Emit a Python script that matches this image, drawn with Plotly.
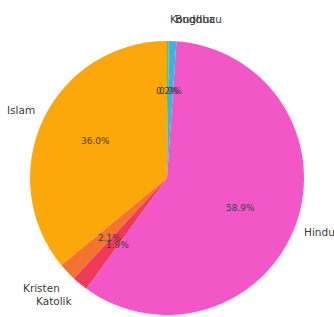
import math
import plotly.graph_objects as go

labels = ["Islam", "Kristen", "Katolik", "Hindu", "Buddha", "Konghucu"]
values = [36.0, 2.1, 1.9, 58.9, 0.9, 0.2]
colors = ["#FCA70A", "#F2742F", "#F03A5C", "#F356C6", "#3AB4E6", "#57C46A"]

W, H = 334, 317
cx, cy, R = 167, 178, 137
RX, RY = 131, 145  # text placement radii (reference is slightly stretched)

total = sum(values)

fig = go.Figure()
fig.add_trace(go.Pie(
    labels=labels, values=values, sort=False, direction="counterclockwise",
    rotation=-values[0] / total * 360.0, textinfo="none", hoverinfo="label+percent",
    marker=dict(colors=colors, line=dict(width=0)),
    domain=dict(x=[(cx - R) / W, (cx + R) / W], y=[1 - (cy + R) / H, 1 - (cy - R) / H]),
    showlegend=False,
))

start = 90.0
annotations = []
for lab, v in zip(labels, values):
    span = v / total * 360.0
    mid = math.radians(start + span / 2)
    start += span
    c, s = math.cos(mid), math.sin(mid)
    lx, ly = cx + 1.1 * RX * c, cy - 1.1 * RY * s
    annotations.append(dict(
        x=lx / W, y=1 - ly / H, xref="paper", yref="paper", text=lab,
        showarrow=False, xanchor="left" if c > 0 else "right", yanchor="middle",
        font=dict(family="DejaVu Sans", size=10.5, color="#3a3a3a"),
    ))
    px_, py_ = cx + 0.6 * RX * c, cy - 0.6 * RY * s
    annotations.append(dict(
        x=px_ / W, y=1 - py_ / H, xref="paper", yref="paper",
        text=f"{v / total * 100:.1f}%", showarrow=False,
        xanchor="center", yanchor="middle",
        font=dict(family="DejaVu Sans", size=9, color="#4a3a40"),
    ))

fig.update_layout(
    width=W, height=H, margin=dict(l=0, r=0, t=0, b=0),
    paper_bgcolor="white", plot_bgcolor="white",
    annotations=annotations,
)
fig.write_html(
    "out.html",
    config={"displayModeBar": False},
    post_script="document.body.style.margin='0';document.body.style.overflow='hidden';",
)
